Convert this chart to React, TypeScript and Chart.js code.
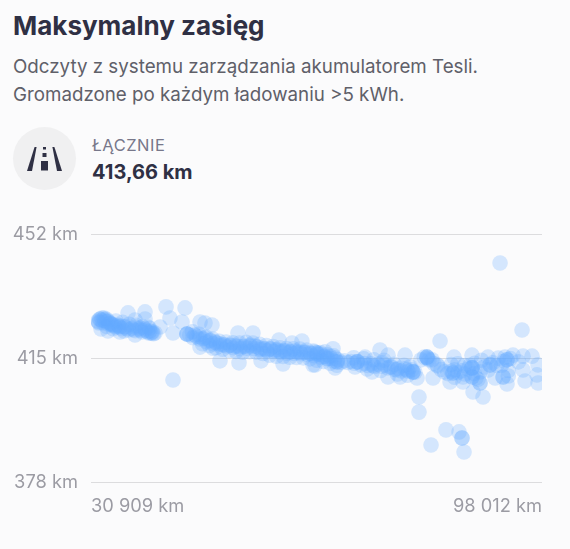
import React, { useEffect, useRef } from "react";
import Chart from "chart.js/auto";

const title = "Maksymalny zasięg";
const subtitle = [
  "Odczyty z systemu zarządzania akumulatorem Tesli.",
  "Gromadzone po każdym ładowaniu >5 kWh.",
];
const totalLabel = "ŁĄCZNIE";
const totalValue = "413,66 km";

const xTicks = [30909, 98012];
const yTicks = [378, 415, 452];

// odometer readings and the range read at each of them
const odometerKm = [
  31950, 32250, 32550, 32840, 33140, 33440, 32100, 32700, 33740, 34030, 34480, 34930, 35370, 35820,
  32400, 33440, 35220, 36420, 38950, 42070, 44900, 38950, 42660, 44450, 37460, 37460, 43110, 41180,
  45190, 45190, 45190, 47130, 48910, 47870, 47130, 49060, 50100, 52930, 56210, 59480, 43110, 52780,
  55010, 58880, 62300, 60820, 63940, 38950, 39690, 39990, 40430, 39390, 38200, 37460, 46380, 47130,
  47870, 48620, 49360, 50100, 50850, 51590, 52340, 53080, 53820, 54570, 55310, 56060, 56800, 57540,
  58290, 59030, 59780, 60520, 61270, 62010, 62750, 63500, 64240, 64980, 65730, 66470, 67220,
  91770, 95040, 82840, 79710, 79710, 83730, 81500, 85670, 86110, 86110, 86410, 89240, 87750, 92810,
  95490, 97420, 97420, 95190, 93700, 96530, 95190, 92510, 89980, 87600, 84920, 77630, 73910, 75100,
  71680, 65730, 66920, 64240, 67220, 70190, 72720, 75100, 76890, 79420, 81800, 84330, 86260, 91030,
  80900, 80900, 80900, 81650, 82390, 70490, 70490, 67510, 67510, 66030, 64540, 64540, 72870, 74210,
  75400, 76440, 77930, 78820, 78820, 78820, 78380, 84770, 84770, 87600, 87600, 87600, 87600, 87600,
  88790, 88790, 90280, 90280, 92810, 92810, 92220, 92220, 86260, 97270,
  32050, 32500, 33000, 33500, 34000, 34500, 35000, 35500, 36000, 36500, 37000, 37500, 38000, 38500, 39000, 39500, 40000,
  45600, 46100, 46600, 47100, 47600, 48100, 48600, 49100, 49600, 50100, 50600, 51100, 51600, 52100, 52600, 53100,
  53600, 54100, 54600, 55100, 55600, 56100, 56600, 57100, 57600, 58100, 58600, 59100, 59600, 60100, 60600, 61100,
  61600, 62100, 62600, 63100, 63600, 64100, 64600, 65100, 65600, 66100, 66600, 67100, 67600, 68100, 68600,
  69100, 69600, 70100, 70600, 71100, 71600, 72100, 72600, 73100, 73600, 74100, 74600, 75100, 75600, 76100, 76600,
  77100, 77600, 78100, 78600, 79100,
  32200, 32900, 33300, 33800, 34300, 35200, 36200, 37300, 38300, 39300, 39800, 40200,
  80000, 80500, 81000, 81200, 81900, 82500, 83000, 83500, 84000, 84500, 85000, 85500, 86000, 86500, 87000, 87300,
  87900, 88200, 88500, 89500, 90700, 91300, 92000, 92400, 93000, 93300,
  34600, 35600, 36600, 37600, 38600, 39600, 33200, 34200, 35800,
  46000, 47000, 48000, 49000, 50000, 51000, 52000, 53000, 54000, 55000, 56000, 57000, 58000, 59000, 60000, 61000,
  62000, 63000, 64000, 65000, 66000, 67000,
  47500, 48500, 49500, 50500, 51500, 52500, 53500, 54500, 55500, 56500, 57500, 58500, 59500, 60500, 61500, 62500,
  63500, 64500, 65500, 66500, 67500,
  70000, 71500, 73000, 74500, 76000, 77500, 72000, 74000, 76500, 78000,
  84500, 85500, 86500, 88000, 89000, 90000, 91500, 93000, 94500, 85000, 88800,
];
const rangeKm = [
  426.2, 426.8, 427.1, 427.1, 426.8, 426.2, 425.6, 425.6, 425.6, 425.0, 424.7, 425.0, 424.7, 424.4,
  423.8, 423.2, 422.9, 428.6, 428.9, 430.4, 430.1, 426.8, 427.1, 425.9, 422.0, 426.5, 422.6, 424.4,
  422.3, 422.3, 422.3, 425.9, 425.0, 425.6, 418.4, 418.1, 414.3, 413.7, 414.3, 413.4, 408.6, 422.6,
  422.6, 420.5, 420.2, 419.6, 413.1, 423.8, 423.2, 422.6, 422.6, 424.4, 424.1, 424.4, 422.0, 421.4,
  421.1, 420.5, 419.9, 419.3, 419.0, 419.0, 418.7, 418.4, 418.7, 419.0, 418.7, 418.1, 417.8, 417.8,
  417.5, 417.2, 417.2, 416.9, 417.2, 416.9, 416.9, 416.6, 416.9, 416.3, 415.7, 415.7, 415.1,
  443.5, 423.5, 420.2, 403.5, 399.0, 393.7, 389.2, 393.1, 391.3, 391.3, 387.1, 403.5, 405.0, 407.4,
  408.3, 407.7, 413.1, 411.6, 416.0, 415.7, 415.7, 415.4, 415.4, 416.0, 415.4, 416.0, 417.5, 416.0,
  415.4, 417.0, 417.9, 413.1, 412.2, 412.5, 411.0, 409.5, 409.5, 409.2, 409.2, 408.0, 408.0, 409.2,
  415.4, 415.4, 415.4, 414.6, 413.1, 414.0, 414.0, 414.0, 414.0, 415.1, 416.6, 416.6, 412.9, 413.7,
  412.5, 411.6, 411.6, 411.0, 411.0, 411.0, 412.5, 410.7, 410.7, 412.2, 412.2, 412.2, 409.5, 409.5,
  407.7, 407.7, 413.1, 413.1, 414.6, 414.6, 409.5, 409.5, 409.5, 410.1,
  425.9, 426.4, 426.2, 425.3, 425.2, 424.4, 424.6, 423.9, 424.5, 423.5, 424.0, 423.3, 423.8, 422.9, 423.4, 422.6, 423.0,
  422.0, 421.2, 421.6, 420.8, 420.9, 420.0, 420.3, 419.4, 419.6, 418.8, 419.1, 418.5, 418.9, 418.2, 418.7, 418.0,
  418.6, 418.1, 418.7, 418.0, 418.5, 417.7, 418.0, 417.3, 417.9, 417.1, 417.6, 416.9, 417.3, 416.6, 417.1, 416.5,
  416.9, 416.4, 416.8, 416.2, 416.5, 415.8, 416.2, 415.4, 415.5, 414.9, 415.0, 414.2, 414.6, 413.9, 414.3,
  413.8, 414.1, 413.6, 414.0, 413.1, 413.5, 412.9, 413.4, 412.6, 413.3, 412.7, 413.1, 412.2, 412.5, 411.7, 412.0,
  411.3, 411.9, 411.2, 411.6, 410.9,
  426.7, 426.6, 426.0, 425.4, 425.0, 424.4, 424.0, 423.6, 423.4, 423.0, 422.6, 422.4,
  414.6, 415.4, 415.0, 414.6, 413.5, 412.8, 411.7, 411.0, 410.5, 411.2, 411.6, 410.8, 411.3, 410.4, 411.9, 413.0,
  410.5, 409.2, 408.8, 412.5, 413.7, 412.9, 413.0, 414.2, 411.4, 415.0,
  426.2, 425.8, 425.2, 424.9, 424.5, 424.0, 424.6, 423.9, 423.2,
  423.0, 422.2, 421.4, 420.8, 420.1, 419.9, 419.7, 419.6, 419.8, 419.6, 419.2, 418.9, 418.6, 418.2, 418.0, 417.9,
  417.8, 417.5, 417.2, 416.8, 416.2, 415.8,
  419.4, 418.9, 418.2, 417.8, 417.4, 417.1, 416.9, 417.0, 416.9, 416.5, 416.0, 415.7, 415.6, 415.4, 415.3, 415.2,
  414.9, 414.5, 414.1, 413.6, 413.0,
  415.2, 414.9, 414.6, 414.5, 413.3, 413.0, 411.9, 411.4, 410.4, 410.0,
  413.2, 413.4, 412.9, 413.6, 414.5, 411.6, 415.1, 409.8, 414.0, 409.4, 411.0,
];

const RoadIcon = () => (
  <svg width="35" height="24" viewBox="0 0 35 24" style={{ display: "block" }}>
    <path d="M7.6 0 L9.6 0 L5 24 L0 24 Z" fill="#2f3044" />
    <path d="M25.4 0 L27.4 0 L35 24 L30 24 Z" fill="#2f3044" />
    <rect x="16" y="0" width="3" height="2.5" fill="#2f3044" />
    <rect x="15.5" y="6" width="4" height="4" fill="#2f3044" />
    <rect x="14" y="14" width="7" height="9.5" fill="#2f3044" />
  </svg>
);

const App = () => {
  const canvasRef = useRef<HTMLCanvasElement | null>(null);

  useEffect(() => {
    const ctx = canvasRef.current?.getContext("2d");
    if (!ctx) return;

    const chart = new Chart(ctx, {
      type: "scatter",
      data: {
        datasets: [
          {
            label: "Maksymalny zasięg",
            data: odometerKm.map((x, i) => ({ x, y: rangeKm[i] })),
            backgroundColor: "rgba(100, 170, 255, 0.26)",
            borderWidth: 0,
            pointRadius: 7.8,
          },
        ],
      },
      options: {
        animation: false,
        responsive: false,
        layout: { padding: { top: 34.5, right: 28, bottom: 0, left: 0 } },
        plugins: { legend: { display: false }, tooltip: { enabled: false } },
        scales: {
          x: {
            type: "linear",
            min: xTicks[0],
            max: xTicks[1],
            afterBuildTicks: (axis) => {
              axis.ticks = xTicks.map((value) => ({ value }));
            },
            afterFit: (axis) => {
              axis.height = 66.5;
            },
            grid: { display: false },
            border: { display: false },
            ticks: {
              align: "inner",
              maxRotation: 0,
              padding: 5,
              color: "#9b9ba3",
              font: { family: "Inter", size: 18.3 },
              callback: (value) => `${String(value).replace(/(\d{3})$/, " $1")} km`,
            },
          },
          y: {
            type: "linear",
            min: yTicks[0],
            max: yTicks[2],
            afterBuildTicks: (axis) => {
              axis.ticks = yTicks.map((value) => ({ value }));
            },
            afterFit: (axis) => {
              axis.width = 91;
            },
            grid: { color: "#dcdcde", lineWidth: 1, drawTicks: false },
            border: { display: false },
            ticks: {
              padding: 13,
              color: "#9b9ba3",
              font: { family: "Inter", size: 18.3 },
              callback: (value) => `${value} km`,
            },
          },
        },
      },
    });

    return () => {
      chart.destroy();
    };
  }, []);

  return (
    <div
      style={{
        position: "absolute",
        left: 0,
        top: 0,
        width: 570,
        height: 549,
        background: "#fbfbfc",
        fontFamily: "Inter",
        overflow: "hidden",
      }}
    >
      <div
        style={{
          position: "absolute",
          left: 13,
          top: 10,
          fontSize: 26,
          fontWeight: 700,
          lineHeight: "32px",
          color: "#2f3044",
          whiteSpace: "nowrap",
        }}
      >
        {title}
      </div>
      <div
        style={{
          position: "absolute",
          left: 13,
          top: 53,
          fontSize: 18.75,
          lineHeight: "27.5px",
          color: "#5f6069",
          whiteSpace: "nowrap",
        }}
      >
        {subtitle.map((line) => (
          <div key={line}>{line}</div>
        ))}
      </div>
      <div
        style={{
          position: "absolute",
          left: 13,
          top: 127,
          width: 63,
          height: 63,
          borderRadius: "50%",
          background: "#f0f0f1",
          display: "flex",
          alignItems: "center",
          justifyContent: "center",
        }}
      >
        <RoadIcon />
      </div>
      <div
        style={{
          position: "absolute",
          left: 92,
          top: 135,
          fontSize: 16.5,
          lineHeight: "20px",
          letterSpacing: 0.5,
          color: "#77778a",
        }}
      >
        {totalLabel}
      </div>
      <div
        style={{
          position: "absolute",
          left: 92,
          top: 160,
          fontSize: 20,
          fontWeight: 700,
          lineHeight: "24px",
          color: "#2f3044",
        }}
      >
        {totalValue}
      </div>
      <canvas
        ref={canvasRef}
        width={570}
        height={349}
        style={{ position: "absolute", left: 0, top: 200, width: 570, height: 349 }}
      />
    </div>
  );
};

export default App;
